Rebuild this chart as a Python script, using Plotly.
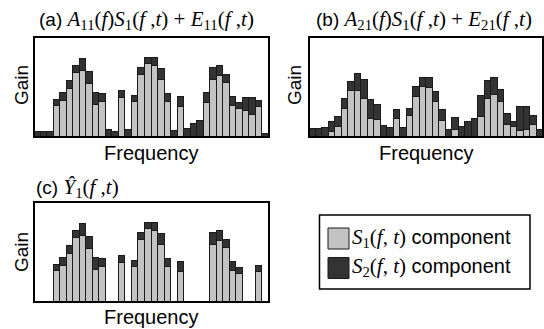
import plotly.graph_objects as go

W, H = 544, 329

# ---- data (arbitrary gain units, 0-100 scale) ----
freq_bins = list(range(1, 37))

# panel (a): A11 S1 + E11
a_s1 = [0, 0, 0, 31, 36, 48, 64, 66, 53, 32, 35, 0, 0, 39, 0, 35, 62, 73,
        71, 57, 35, 0, 30, 0, 0, 0, 34, 57, 61, 54, 31, 28, 26, 22, 30, 0]
a_s2 = [5.3, 4.7, 5.3, 6.3, 8, 7.7, 7, 11.7, 12, 11.7, 8, 6.7, 5.3, 6.7, 6.7, 5.7, 7, 5.7,
        8.3, 10.7, 8, 5.7, 9.7, 8.3, 12.7, 15.7, 10.3, 11.7, 9.7, 7.7, 9, 6, 13.3, 17, 6, 3.3]

# panel (b): A21 S1 + E21
b_s1 = [0, 0, 0, 4.7, 9.7, 27.7, 46.3, 46.3, 38.3, 17.7, 16.7, 0, 0, 18.3, 0, 20.7, 40, 50.3,
        49, 35, 16.3, 0, 7.3, 0, 0, 0, 20.3, 37.7, 42.3, 35, 11.7, 9.7, 5.7, 7, 12, 0]
b_s2 = [7.7, 7.7, 8.7, 10, 10, 10.3, 9, 16.3, 18.7, 19.3, 15.3, 10.7, 8.7, 8.3, 8.7, 7.3, 9.7, 8.7,
        9.7, 10.3, 10.3, 6.7, 12, 10.3, 15, 18, 20.7, 18.7, 16.7, 12, 11.3, 5, 24.3, 22.7, 9.3, 6.7]

# panel (c): bins kept in the estimate Y1-hat
c_keep = [0, 0, 0, 1, 1, 1, 1, 1, 1, 1, 1, 0, 0, 1, 0, 1, 1, 1,
          1, 1, 1, 0, 1, 0, 0, 0, 0, 1, 1, 1, 1, 1, 0, 0, 1, 0]
c_s1 = [v if k else None for v, k in zip(a_s1, c_keep)]
c_s2 = [v if k else None for v, k in zip(a_s2, c_keep)]

LIGHT = "#c3c3c3"
DARK = "#333333"
EDGE = "#1a1a1a"


def px_x(x):
    return x / W


def px_y(y):
    return 1 - y / H


def serif(s, size):
    return ("<span style=\"font-family:Liberation Serif,Times New Roman,serif;font-size:%dpx\">" % size) + s + "</span>"


fig = go.Figure()
panels = [("x", "y", a_s1, a_s2), ("x2", "y2", b_s1, b_s2), ("x3", "y3", c_s1, c_s2)]
for xa, ya, s1, s2 in panels:
    fig.add_trace(go.Bar(x=freq_bins, y=s1, xaxis=xa, yaxis=ya,
                         marker=dict(color=LIGHT, line=dict(color=EDGE, width=1)),
                         showlegend=False))
    fig.add_trace(go.Bar(x=freq_bins, y=s2, xaxis=xa, yaxis=ya,
                         marker=dict(color=DARK, line=dict(color=EDGE, width=1)),
                         showlegend=False))

ax_common = dict(showticklabels=False, ticks="", showgrid=False, zeroline=False,
                 showline=False, fixedrange=True)

boxes = {
    "a": (34, 269, 37, 137),
    "b": (309, 543, 37, 137),
    "c": (34, 269, 202, 302),
}


def dom(b):
    x0, x1, y0, y1 = b
    return [px_x(x0), px_x(x1)], [px_y(y1), px_y(y0)]


shapes = []
for key, xa, ya in [("a", "xaxis", "yaxis"), ("b", "xaxis2", "yaxis2"), ("c", "xaxis3", "yaxis3")]:
    dx, dy = dom(boxes[key])
    anchor_x = ya.replace("axis", "")
    anchor_y = xa.replace("axis", "")
    fig.layout[xa] = dict(domain=dx, range=[0.5, 36.5], anchor=anchor_x, **ax_common)
    fig.layout[ya] = dict(domain=dy, range=[0, 100], anchor=anchor_y, **ax_common)
    shapes.append(dict(type="rect", xref="paper", yref="paper", layer="above",
                       x0=dx[0], x1=dx[1], y0=dy[0], y1=dy[1],
                       line=dict(color="black", width=2), fillcolor="rgba(0,0,0,0)"))

ann = []
SANS = "Liberation Sans, Arial, sans-serif"


def text(x, y, s, size=20, xanchor="center", angle=0):
    ann.append(dict(x=px_x(x), y=px_y(y), xref="paper", yref="paper", text=s,
                    showarrow=False, xanchor=xanchor, yanchor="middle", textangle=angle,
                    font=dict(family=SANS, size=size, color="black")))


# titles
TS = 21
text(37, 20, "(a) " + serif("<i>A</i><sub>11</sub>(<i>f</i>)<i>S</i><sub>1</sub>(<i>f</i> ,<i>t</i>) + <i>E</i><sub>11</sub>(<i>f</i> ,<i>t</i>)", TS),
     size=19, xanchor="left")
text(314, 20, "(b) " + serif("<i>A</i><sub>21</sub>(<i>f</i>)<i>S</i><sub>1</sub>(<i>f</i> ,<i>t</i>) + <i>E</i><sub>21</sub>(<i>f</i> ,<i>t</i>)", TS),
     size=19, xanchor="left")
text(34, 188, "(c) " + serif("<i>Ŷ</i><sub>1</sub>(<i>f</i> ,<i>t</i>)", TS), size=19, xanchor="left")

# axis labels
text(151.5, 153, "Frequency")
text(426, 153, "Frequency")
text(151.5, 317, "Frequency")
text(21, 85, "Gain", size=19, angle=-90)
text(294, 85, "Gain", size=19, angle=-90)
text(21, 252, "Gain", size=19, angle=-90)

# legend
shapes += [
    dict(type="rect", xref="paper", yref="paper", x0=px_x(319.5), x1=px_x(530), y0=px_y(289), y1=px_y(215),
         line=dict(color="black", width=1.5), fillcolor="white"),
    dict(type="rect", xref="paper", yref="paper", x0=px_x(328), x1=px_x(349), y0=px_y(249), y1=px_y(228),
         line=dict(color=EDGE, width=1), fillcolor=LIGHT),
    dict(type="rect", xref="paper", yref="paper", x0=px_x(328), x1=px_x(349), y0=px_y(278.5), y1=px_y(257.5),
         line=dict(color=EDGE, width=1), fillcolor=DARK),
]
text(350, 238, serif("<i>S</i><sub>1</sub>(<i>f</i>, <i>t</i>)", 21) + " component", size=20, xanchor="left")
text(350, 267, serif("<i>S</i><sub>2</sub>(<i>f</i>, <i>t</i>)", 21) + " component", size=20, xanchor="left")

fig.update_layout(
    width=W, height=H, margin=dict(l=0, r=0, t=0, b=0),
    barmode="stack", bargap=0,
    plot_bgcolor="white", paper_bgcolor="white",
    annotations=ann, shapes=shapes,
    showlegend=False,
)

fig.write_html("out.html", config={"displayModeBar": False},
               post_script="document.body.style.margin='0';document.body.style.padding='0';")
